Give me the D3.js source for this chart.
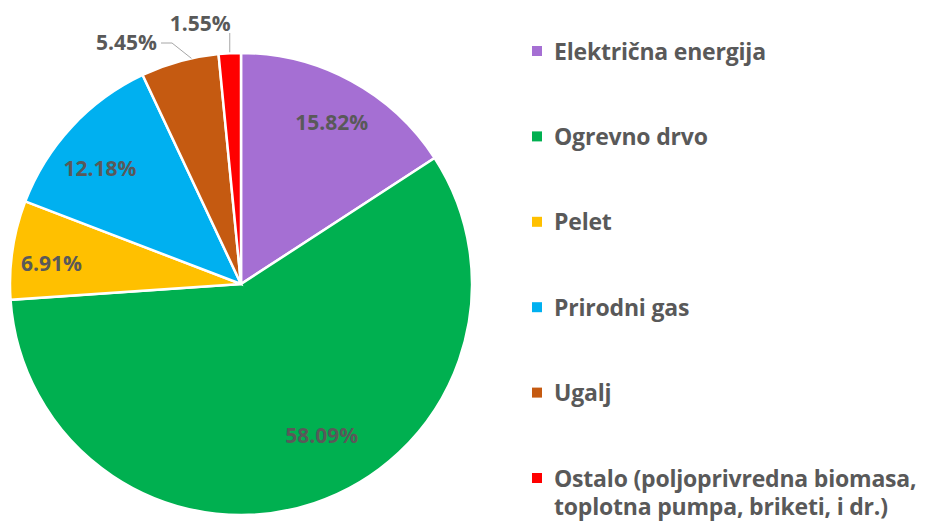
<!DOCTYPE html>
<html>
<head>
<meta charset="utf-8">
<script src="https://cdn.jsdelivr.net/npm/d3@7"></script>
<style>
  body { margin: 0; background: #fff; }
  text { font-family: "Open Sans", sans-serif; font-weight: bold; fill: #595959; }
</style>
</head>
<body>
<svg width="931" height="525"></svg>
<script>
var categories = ["Električna energija", "Ogrevno drvo", "Pelet", "Prirodni gas", "Ugalj",
  "Ostalo (poljoprivredna biomasa,|toplotna pumpa, briketi, i dr.)"];
var shares = [15.82, 58.09, 6.91, 12.18, 5.45, 1.55];
var colors = ["#a56fd3", "#00b050", "#ffc000", "#00b0f0", "#c55a11", "#ff0000"];

var svg = d3.select("svg");
var cx = 241, cy = 284, r = 231;

var pie = d3.pie().sort(null).value(function(d) { return d; });
var arcs = pie(shares);
var arc = d3.arc().innerRadius(0).outerRadius(r);

var g = svg.append("g").attr("transform", "translate(" + cx + "," + cy + ")");

g.selectAll("path")
  .data(arcs)
  .enter()
  .append("path")
    .attr("d", arc)
    .style("fill", function(d, i) { return colors[i]; })
    .style("stroke", "#fff")
    .style("stroke-width", 2.5);

// inside labels: radius fraction and a small angle shift (degrees) like excel's best fit
var labelFrac = [0.80, 0.745, 0.825, 0.79];
var labelShift = [0.9, -9.5, -2.3, -3.5];
var fmt = function(v) { return v.toFixed(2) + "%"; };

g.selectAll(".lbl")
  .data(arcs.slice(0, 4))
  .enter()
  .append("text")
    .attr("class", "lbl")
    .attr("text-anchor", "middle")
    .style("font-size", "21px")
    .attr("x", function(d, i) {
      var a = (d.startAngle + d.endAngle) / 2 + labelShift[i] * Math.PI / 180;
      return Math.sin(a) * r * labelFrac[i];
    })
    .attr("y", function(d, i) {
      var a = (d.startAngle + d.endAngle) / 2 + labelShift[i] * Math.PI / 180;
      return -Math.cos(a) * r * labelFrac[i] + 7.5;
    })
    .text(function(d) { return fmt(d.data); });

// small slices: labels outside with leader lines
var ugalj = arcs[4], ostalo = arcs[5];
var a4 = (ugalj.startAngle + ugalj.endAngle) / 2 + 3 * Math.PI / 180;
var p4 = [Math.sin(a4) * r * 1.0, -Math.cos(a4) * r * 1.0];
g.append("polyline")
  .attr("points", [[-80, -241], [-69, -241], p4].map(function(p) { return p.join(","); }).join(" "))
  .style("fill", "none").style("stroke", "#a6a6a6").style("stroke-width", 1);
g.append("text")
  .attr("text-anchor", "end")
  .style("font-size", "21px")
  .attr("x", -84).attr("y", -234.5)
  .text(fmt(ugalj.data));

var a5 = (ostalo.startAngle + ostalo.endAngle) / 2;
var x5 = Math.sin(a5) * r;
g.append("line")
  .attr("x1", x5).attr("y1", -Math.cos(a5) * r - 1)
  .attr("x2", x5).attr("y2", -251)
  .style("stroke", "#a6a6a6").style("stroke-width", 1);
g.append("text")
  .attr("text-anchor", "end")
  .style("font-size", "21px")
  .attr("x", x5 + 1).attr("y", -253.5)
  .text(fmt(ostalo.data));

// legend
var legend = svg.append("g").attr("transform", "translate(532,51)");
var items = legend.selectAll("g")
  .data(categories)
  .enter()
  .append("g")
    .attr("transform", function(d, i) { return "translate(0," + (i * 85.4) + ")"; });

items.append("rect")
  .attr("x", 0).attr("y", -5)
  .attr("width", 10).attr("height", 10)
  .style("fill", function(d, i) { return colors[i]; });

items.append("text")
  .attr("y", 8.5)
  .style("font-size", "23px")
  .style("letter-spacing", "-0.2px")
  .each(function(d) {
    var parts = d.split("|");
    var t = d3.select(this);
    parts.forEach(function(p, j) {
      t.append("tspan").attr("x", 22).attr("dy", j === 0 ? 0 : 28).text(p);
    });
  });
</script>
</body>
</html>
